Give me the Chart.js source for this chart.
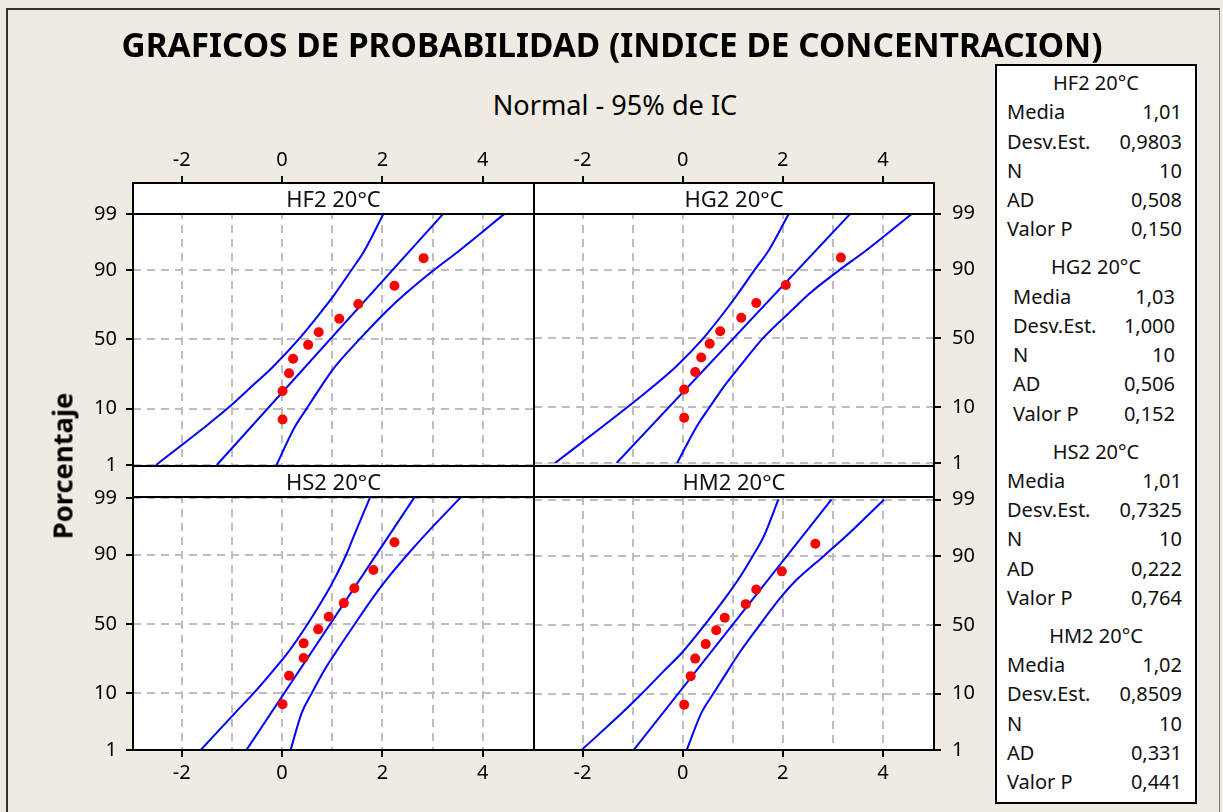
<!DOCTYPE html>
<html>
<head>
<meta charset="utf-8">
<title>Graficos de probabilidad</title>
<script src="https://cdn.jsdelivr.net/npm/chart.js@4.4.1/dist/chart.umd.min.js"></script>
<style>
  html, body { margin: 0; padding: 0; background: #EFEBE2; }
  #page { position: relative; width: 1223px; height: 812px; overflow: hidden; background: #EFEBE2; font-family: "Noto Sans", sans-serif; color: #000; }
  #page canvas { position: absolute; z-index: 1; }
  .txt { position: absolute; white-space: nowrap; transform: translate(-50%, -50%); z-index: 3; }
  .frame { position: absolute; box-sizing: border-box; border: 2px solid #000; z-index: 2; }
  .strip { position: absolute; left: 0; right: 0; top: 0; box-sizing: border-box; border-bottom: 2px solid #000; background: #fff; text-align: center; font-size: 22px; color: #111; }
  #outer { position: absolute; left: 6px; top: 8px; width: 1214px; height: 830px; box-sizing: border-box; border: 2px solid #333; border-right: 1px solid #777; }
  #legend { position: absolute; left: 995px; top: 64px; width: 202px; height: 740px; box-sizing: border-box; border: 2px solid #000; background: #fff; padding-top: 2px; font-size: 20px; z-index: 2; color: #111; }
  .blk { margin-bottom: 8.5px; line-height: 29.3px; }
  .blk .hd { text-align: center; }
  .row { display: flex; justify-content: space-between; padding: 0 13px 0 10px; }
  .blk.inset .row { padding: 0 20px 0 16px; }
</style>
</head>
<body>
<div id="page">
  <div id="outer"></div>
  <div class="txt" id="title" style="left:612px; top:44px; font-weight:bold; font-size:30px;">GRAFICOS DE PROBABILIDAD (INDICE DE CONCENTRACION)</div>
  <div class="txt" id="subtitle" style="left:615px; top:104px; font-size:24px;">Normal - 95% de IC</div>
  <div class="txt" id="ylabel" style="left:62px; top:466px; font-weight:bold; font-size:24px; transform:translate(-50%,-50%) rotate(-90deg);">Porcentaje</div>
  <div id="legend"></div>
</div>
<script>
// axis ticks
const PCT_TICKS = [1, 10, 50, 90, 99];
const X_TICKS = [-2, -1, 0, 1, 2, 3, 4];

// plotting positions of the 10 points (%), and the % levels where the bands were read
const RANK_PCT = [6.9, 17, 26.5, 36, 46, 55.3, 65, 74.5, 84, 93.4];
const FIT_PCT = [1, 99];
const BAND_PCT = [1, 5, 10, 20, 30, 50, 70, 80, 90, 95, 99];

// HF2 20°C
const HF2_DATA = [0.01, 0.01, 0.14, 0.22, 0.52, 0.73, 1.14, 1.52, 2.24, 2.82];
const HF2_FIT = [-1.30, 3.21];
const HF2_LOW = [-2.51, -1.57, -1.09, -0.57, -0.20, 0.33, 0.79, 1.05, 1.38, 1.64, 2.02];
const HF2_HIGH = [-0.11, 0.24, 0.49, 0.80, 1.04, 1.54, 2.08, 2.45, 3.02, 3.53, 4.43];

// HG2 20°C
const HG2_DATA = [0.03, 0.03, 0.25, 0.37, 0.54, 0.75, 1.17, 1.47, 2.06, 3.16];
const HG2_FIT = [-1.32, 3.35];
const HG2_LOW = [-2.55, -1.60, -1.10, -0.52, -0.13, 0.41, 0.86, 1.11, 1.44, 1.72, 2.12];
const HG2_HIGH = [-0.11, 0.28, 0.54, 0.87, 1.14, 1.60, 2.18, 2.54, 3.14, 3.67, 4.58];

// HS2 20°C
const HS2_DATA = [0.01, 0.14, 0.43, 0.43, 0.72, 0.93, 1.23, 1.44, 1.82, 2.24];
const HS2_FIT = [-0.71, 2.63];
const HS2_LOW = [-1.62, -0.94, -0.57, -0.16, 0.12, 0.51, 0.86, 1.05, 1.28, 1.44, 1.75];
const HS2_HIGH = [0.17, 0.39, 0.59, 0.85, 1.07, 1.45, 1.84, 2.10, 2.50, 2.85, 3.55];

// HM2 20°C
const HM2_DATA = [0.03, 0.16, 0.25, 0.46, 0.67, 0.84, 1.26, 1.47, 1.98, 2.65];
const HM2_FIT = [-0.98, 2.97];
const HM2_LOW = [-2.02, -1.22, -0.82, -0.36, -0.02, 0.44, 0.87, 1.11, 1.40, 1.62, 1.91];
const HM2_HIGH = [0.08, 0.37, 0.61, 0.91, 1.13, 1.54, 1.97, 2.28, 2.82, 3.26, 4.02];

// summary table
const STAT_LABELS = ["Media", "Desv.Est.", "N", "AD", "Valor P"];
const HF2_STATS = ["1,01", "0,9803", "10", "0,508", "0,150"];
const HG2_STATS = ["1,03", "1,000", "10", "0,506", "0,152"];
const HS2_STATS = ["1,01", "0,7325", "10", "0,222", "0,764"];
const HM2_STATS = ["1,02", "0,8509", "10", "0,331", "0,441"];

const PANELS = [
  {name: "HF2 20°C", data: HF2_DATA, fit: HF2_FIT, low: HF2_LOW, high: HF2_HIGH, stats: HF2_STATS, col: 0, row: 0},
  {name: "HG2 20°C", data: HG2_DATA, fit: HG2_FIT, low: HG2_LOW, high: HG2_HIGH, stats: HG2_STATS, col: 1, row: 0},
  {name: "HS2 20°C", data: HS2_DATA, fit: HS2_FIT, low: HS2_LOW, high: HS2_HIGH, stats: HS2_STATS, col: 0, row: 1},
  {name: "HM2 20°C", data: HM2_DATA, fit: HM2_FIT, low: HM2_LOW, high: HM2_HIGH, stats: HM2_STATS, col: 1, row: 1},
];

// layout (pixels)
const COLS = [{l: 133, r: 534}, {l: 534, r: 934}];
const ROWS = [{t: 183, s: 214, b: 466}, {t: 466, s: 497, b: 750}];
const Y_W = 70, X_H = 50;
const X_MIN = -2.97, X_MAX = 5.02;
const FONT = "Noto Sans";
const BLUE = "#0000FF", RED = "#FF0000", GRID = "#BEBEBE";

// normal probability scale: percent -> z
function probit(p)
{
  const q = p < 0.5 ? p : 1 - p;
  const t = Math.sqrt(-2 * Math.log(q));
  const z = t - (2.515517 + 0.802853 * t + 0.010328 * t * t) / (1 + 1.432788 * t + 0.189269 * t * t + 0.001308 * t * t * t);
  return p < 0.5 ? -z : z;
}
const zOf = pct => probit(pct / 100);
const Z_LO = zOf(PCT_TICKS[0]);
const Z_HI = zOf(PCT_TICKS[PCT_TICKS.length - 1]);

const whiteArea = {
  id: "whiteArea",
  beforeDraw(chart) {
    const a = chart.chartArea;
    chart.ctx.save();
    chart.ctx.fillStyle = "#fff";
    chart.ctx.fillRect(a.left, a.top, a.width, a.height);
    chart.ctx.restore();
  },
};

const page = document.getElementById("page");

function lineSet(xs, pcts, smooth)
{
  return {
    data: xs.map((x, i) => ({x: x, y: zOf(pcts[i])})),
    showLine: true,
    borderColor: BLUE,
    borderWidth: 2,
    pointRadius: 0,
    cubicInterpolationMode: smooth ? "monotone" : "default",
    tension: 0,
  };
}

function createPanel(p)
{
  const c = COLS[p.col], r = ROWS[p.row];
  const left = p.col === 0, top = p.row === 0;
  const x0 = left ? c.l - Y_W : c.l - 10;
  const x1 = left ? c.r + 10 : c.r + Y_W;
  const y0 = top ? r.t - X_H : r.t - 20;
  const y1 = top ? r.b + 20 : r.b + X_H;

  const cv = document.createElement("canvas");
  cv.width = x1 - x0;
  cv.height = y1 - y0;
  cv.style.left = x0 + "px";
  cv.style.top = y0 + "px";
  page.appendChild(cv);

  // the chart area also holds the strip, so stretch the z range above 99 %
  const zTop = Z_HI + (Z_HI - Z_LO) * (r.s - r.t) / (r.b - r.s);

  new Chart(cv, {
    type: "scatter",
    data: {
      datasets: [
        {data: p.data.map((x, i) => ({x: x, y: zOf(RANK_PCT[i])})), pointRadius: 5, pointBackgroundColor: RED, pointBorderWidth: 0, showLine: false},
        lineSet(p.fit, FIT_PCT, false),
        lineSet(p.low, BAND_PCT, true),
        lineSet(p.high, BAND_PCT, true),
      ],
    },
    options: {
      responsive: false,
      animation: false,
      devicePixelRatio: 1,
      layout: {padding: {left: left ? 0 : 10, right: left ? 10 : 0, top: top ? 0 : 20, bottom: top ? 20 : 0}},
      plugins: {legend: {display: false}, tooltip: {enabled: false}},
      scales: {
        x: {
          type: "linear",
          position: top ? "top" : "bottom",
          min: X_MIN,
          max: X_MAX,
          afterBuildTicks: s => { s.ticks = X_TICKS.map(v => ({value: v})); },
          afterFit: s => { s.height = X_H; },
          ticks: {
            autoSkip: false,
            maxRotation: 0,
            color: "#000",
            padding: 4,
            font: {family: FONT, size: 20},
            callback: v => (v % 2 === 0 ? String(v) : ""),
          },
          grid: {
            color: GRID,
            lineWidth: 2,
            tickLength: 7,
            tickWidth: 2,
            tickColor: ctx => (ctx.tick && ctx.tick.value % 2 === 0 ? "#000" : "rgba(0,0,0,0)"),
          },
          border: {display: false, dash: [8, 6]},
        },
        y: {
          type: "linear",
          position: left ? "left" : "right",
          min: Z_LO,
          max: zTop,
          afterBuildTicks: s => { s.ticks = PCT_TICKS.map(v => ({value: zOf(v)})); },
          afterFit: s => { s.width = Y_W; },
          ticks: {
            autoSkip: false,
            color: "#000",
            padding: left ? 9 : 11,
            font: {family: FONT, size: 20},
            callback: (v, i) => String(PCT_TICKS[i]),
          },
          grid: {
            color: GRID,
            lineWidth: 2,
            tickLength: 7,
            tickWidth: 2,
            tickColor: "#000",
          },
          border: {display: false, dash: [8, 6]},
        },
      },
    },
    plugins: [whiteArea],
  });

  // panel frame and strip label
  const fr = document.createElement("div");
  fr.className = "frame";
  fr.style.left = (c.l - 1) + "px";
  fr.style.top = (r.t - 1) + "px";
  fr.style.width = (c.r - c.l + 2) + "px";
  fr.style.height = (r.b - r.t + 2) + "px";
  const st = document.createElement("div");
  st.className = "strip";
  st.style.height = (r.s - r.t) + "px";
  st.style.lineHeight = (r.s - r.t - 2) + "px";
  st.textContent = p.name;
  fr.appendChild(st);
  page.appendChild(fr);
}

PANELS.forEach(createPanel);

// summary table on the right
const legend = document.getElementById("legend");
PANELS.forEach((p, k) => {
  const blk = document.createElement("div");
  blk.className = k === 1 ? "blk inset" : "blk";
  const hd = document.createElement("div");
  hd.className = "hd";
  hd.textContent = p.name;
  blk.appendChild(hd);
  STAT_LABELS.forEach((lab, i) => {
    const row = document.createElement("div");
    row.className = "row";
    const a = document.createElement("span");
    a.textContent = lab;
    const b = document.createElement("span");
    b.textContent = p.stats[i];
    row.appendChild(a);
    row.appendChild(b);
    blk.appendChild(row);
  });
  legend.appendChild(blk);
});

// size the headings to the widths they have in the picture
function fitWidth(id, target)
{
  const el = document.getElementById(id);
  const fs = parseFloat(getComputedStyle(el).fontSize);
  el.style.fontSize = (fs * target / el.offsetWidth) + "px";
}
fitWidth("title", 981);
fitWidth("subtitle", 244);
fitWidth("ylabel", 147);
</script>
</body>
</html>
